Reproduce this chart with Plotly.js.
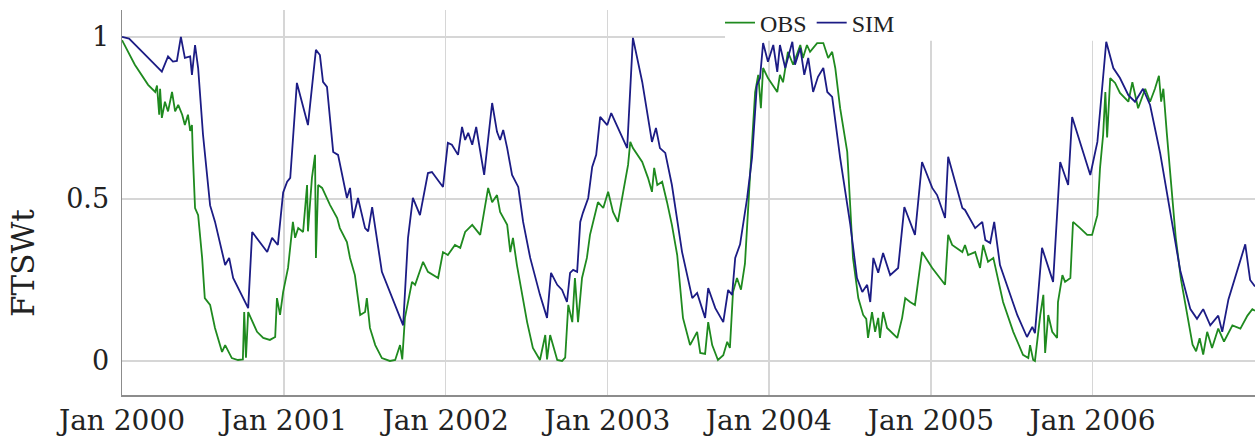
<!DOCTYPE html>
<html>
<head>
<meta charset="utf-8">
<script src="https://cdn.plot.ly/plotly-3.0.1.min.js"></script>
<style>html,body{margin:0;padding:0;background:#fff;}#chart{width:1255px;height:438px;}</style>
</head>
<body>
<div id="chart"></div>
<script>
// Days since 2000-01-01 and FTSWt values
const simDays = [0,16,52,90,104,115,124,133,142,154,158,165,172,183,199,210,233,242,251,278,285,294,328,339,352,
364,373,380,395,420,438,447,454,463,477,488,508,515,522,533,549,556,565,587,610,635,646,657,673,691,700,725,
736,745,759,768,775,782,791,800,818,836,847,854,861,870,881,895,906,922,944,960,969,983,994,1005,1012,1019,1028,
1035,1041,1053,1062,1071,1080,1096,1105,1125,1141,1154,1175,1197,1206,1215,1227,1242,1265,1288,1299,1317,1324,
1340,1358,1369,1378,1385,1396,1412,1423,1434,1441,1448,1459,1471,1480,1486,1498,1514,1520,1532,1541,1550,1561,
1572,1584,1593,1604,1622,1645,1660,1672,1683,1690,1697,1708,1719,1735,1753,1767,1791,1807,1830,1841,1859,1866,
1898,1904,1927,1943,1950,1961,1970,1983,2022,2044,2056,2062,2078,2103,2119,2137,2146,2187,2203,2209,2223,2239,
2254,2273,2288,2306,2322,2345,2367,2390,2413,2428,2442,2458,2476,2485,2499,2519,2537,2548,2559];
const simVals = [1.00,0.995,0.945,0.893,0.94,0.924,0.926,1.0,0.935,0.94,0.883,0.975,0.904,0.698,0.48,0.43,0.296,0.318,0.256,0.182,0.163,0.398,0.336,0.38,0.358,
0.52,0.553,0.565,0.858,0.728,0.96,0.944,0.861,0.846,0.645,0.636,0.503,0.534,0.441,0.503,0.41,0.40,0.475,0.275,0.194,0.11,0.38,0.503,0.45,0.58,0.583,0.537,
0.673,0.667,0.636,0.722,0.682,0.704,0.667,0.722,0.574,0.796,0.707,0.682,0.713,0.657,0.574,0.537,0.429,0.318,0.204,0.133,0.272,0.235,0.219,0.182,0.272,0.281,0.275,
0.429,0.457,0.503,0.599,0.636,0.753,0.728,0.765,0.707,0.657,0.997,0.861,0.676,0.719,0.657,0.642,0.543,0.336,0.194,0.21,0.133,0.225,
0.163,0.12,0.219,0.204,0.318,0.36,0.503,0.627,0.852,0.873,0.981,0.923,0.975,0.892,0.975,0.904,0.985,0.914,0.966,0.883,0.935,0.83,
0.877,0.904,0.83,0.815,0.627,0.42,0.256,0.213,0.235,0.182,0.318,0.272,0.333,0.265,0.287,0.475,0.389,0.614,0.534,0.512,0.441,0.63,
0.472,0.466,0.41,0.429,0.373,0.364,0.429,0.296,0.142,0.074,0.105,0.086,0.349,0.244,0.614,0.543,0.753,0.574,0.676,0.769,0.985,0.904,
0.873,0.82,0.80,0.84,0.79,0.64,0.46,0.28,0.16,0.13,0.16,0.11,0.14,0.09,0.19,0.28,0.36,0.25,0.23];

const obsDays = [0,29,59,75,79,84,86,90,97,104,113,120,127,136,142,149,154,158,160,165,172,181,187,199,210,226,233,248,262,273,276,280,285,305,319,334,346,350,357,
364,375,386,391,398,409,418,420,429,436,438,443,452,470,486,492,508,515,526,538,549,553,560,572,587,605,617,628,633,639,646,655,662,680,691,714,
725,736,752,764,775,791,809,820,827,836,847,854,870,877,883,892,906,915,928,944,956,960,967,974,983,994,1001,1008,1017,1023,1030,1039,1050,1057,1069,1075,1087,
1098,1109,1120,1132,1143,1148,1154,1175,1188,1197,1202,1209,1220,1231,1242,1254,1267,1283,1299,1306,1317,1324,1333,1346,1358,1367,1373,1380,1389,1398,1407,1419,1430,
1437,1443,1448,1459,1480,1486,1493,1504,1516,1532,1538,1547,1554,1570,1584,1595,1604,1611,1622,1638,1645,1651,1663,1674,1681,1685,1694,1701,1708,1712,1719,1728,1751,
1762,1769,1780,1791,1807,1830,1859,1866,1875,1898,1904,1911,1927,1938,1945,1956,1968,1990,2013,2035,2047,2051,2058,2062,2074,2081,2085,2092,2101,2112,2114,2124,2130,
2142,2148,2164,2180,2191,2203,2209,2216,2221,2225,2232,2243,2254,2273,2282,2295,2311,2322,2333,2342,2347,2352,2360,2370,2380,2392,2405,2418,2426,2434,2442,2451,2462,2476,2489,2508,2526,2542,2553,2559];
const obsVals = [0.99,0.914,0.852,0.83,0.85,0.76,0.84,0.75,0.80,0.77,0.83,0.77,0.79,0.76,0.728,0.76,0.71,0.728,0.636,0.472,0.45,0.318,0.194,0.173,0.102,0.028,0.049,0.009,0.003,0.005,0.151,0.01,0.151,0.09,0.071,0.065,0.074,0.194,0.142,
0.213,0.287,0.429,0.38,0.41,0.398,0.543,0.40,0.565,0.636,0.318,0.543,0.534,0.481,0.441,0.41,0.367,0.318,0.265,0.142,0.151,0.194,0.102,0.049,0.009,0.0,0.003,0.049,0.005,0.133,0.182,0.244,0.235,0.306,0.275,0.256,
0.336,0.327,0.358,0.349,0.398,0.42,0.389,0.481,0.534,0.49,0.512,0.46,0.42,0.336,0.38,0.296,0.182,0.12,0.04,0.003,0.08,0.005,0.08,0.049,0.003,0.0,0.01,0.173,0.12,0.256,0.12,0.256,0.318,0.389,0.46,0.49,0.472,
0.522,0.46,0.429,0.522,0.605,0.676,0.657,0.614,0.565,0.522,0.596,0.543,0.553,0.49,0.42,0.327,0.133,0.049,0.09,0.025,0.022,0.12,0.049,0.003,0.018,0.059,0.04,0.213,0.256,0.22,0.30,0.583,0.83,
0.883,0.78,0.904,0.873,0.83,0.883,0.86,0.954,0.914,0.975,0.935,0.975,0.954,0.981,0.981,0.935,0.954,0.904,0.78,0.645,0.472,0.318,0.194,0.142,0.13,0.071,0.151,0.09,0.133,0.071,0.151,0.102,0.071,
0.133,0.194,0.182,0.173,0.336,0.287,0.235,0.389,0.358,0.336,0.358,0.327,0.336,0.287,0.358,0.306,0.318,0.182,0.09,0.019,0.009,0.049,0.003,0.0,0.142,0.204,0.025,0.142,0.09,0.071,0.182,0.265,0.244,
0.256,0.429,0.41,0.389,0.389,0.45,0.596,0.698,0.83,0.69,0.873,0.858,0.827,0.80,0.86,0.78,0.84,0.80,0.84,0.88,0.80,0.84,0.70,0.55,0.38,0.25,0.15,0.05,0.03,0.07,0.02,0.09,0.04,0.10,0.06,0.11,0.10,0.14,0.16,0.155];

const tickDates = ['2000-01-01','2001-01-01','2002-01-01','2003-01-01','2004-01-01','2005-01-01','2006-01-01'];
const tickLabels = ['Jan 2000','Jan 2001','Jan 2002','Jan 2003','Jan 2004','Jan 2005','Jan 2006'];
const yTicks = [0, 0.5, 1];
const yLabels = ['0', '0.5', '1'];

if (simDays.length !== simVals.length) throw new Error('sim length ' + simDays.length + ' vs ' + simVals.length);
if (obsDays.length !== obsVals.length) throw new Error('obs length ' + obsDays.length + ' vs ' + obsVals.length);

const toDate = d => new Date(Date.UTC(2000, 0, 1) + d * 86400000).toISOString().slice(0, 10);

const traces = [
  {x: obsDays.map(toDate), y: obsVals, name: 'OBS', type: 'scatter', mode: 'lines',
   line: {color: '#1f8a1f', width: 1.8}},
  {x: simDays.map(toDate), y: simVals, name: 'SIM', type: 'scatter', mode: 'lines',
   line: {color: '#1c1c85', width: 1.8}}
];

const W = 1255, H = 438, L = 122, R = 0, T = 10, B = 43;
const pw = W - L - R, ph = H - T - B;

const axisCommon = {
  showgrid: true, gridcolor: '#d6d6d6', gridwidth: 1.5,
  showline: true, linecolor: '#8c8c8c', linewidth: 1.5,
  zeroline: false, ticks: ''
};

const layout = {
  width: W, height: H,
  margin: {l: L, r: R, t: T, b: B, pad: 0},
  paper_bgcolor: '#fff', plot_bgcolor: '#fff',
  showlegend: true,
  legend: {orientation: 'h', x: (720 - L) / pw, xanchor: 'left', y: (H - B - 23) / ph, yanchor: 'middle',
           bgcolor: 'rgba(255,255,255,0)', font: {family: 'Liberation Serif, serif', size: 24, color: '#222'},
           itemwidth: 30, tracegroupgap: 0},
  xaxis: Object.assign({}, axisCommon, {type: 'date', range: ['2000-01-01', '2007-01-03'],
           tickmode: 'array', tickvals: tickDates, ticktext: tickLabels,
           tickfont: {family: 'DejaVu Serif, serif', size: 28, color: '#222'}}),
  yaxis: Object.assign({}, axisCommon, {range: [-0.105, 1.083], tickmode: 'array', tickvals: yTicks, ticktext: yLabels,
           ticklabelstandoff: 6, tickfont: {family: 'DejaVu Serif, serif', size: 27, color: '#222'}}),
  shapes: [{type: 'rect', xref: 'x', yref: 'y', x0: '2003-09-24', x1: '2007-02-01', y0: 0.988, y1: 1.2,
            fillcolor: '#ffffff', line: {width: 0}, layer: 'between'}],
  annotations: [{text: 'FTSWt', xref: 'paper', yref: 'paper', x: (23 - L) / pw, y: (H - B - 263) / ph,
                 textangle: -90, showarrow: false, xanchor: 'center', yanchor: 'middle',
                 font: {family: 'DejaVu Serif, serif', size: 31, color: '#222'}}]
};

Plotly.newPlot('chart', traces, layout, {staticPlot: true, displayModeBar: false});
</script>
</body>
</html>
